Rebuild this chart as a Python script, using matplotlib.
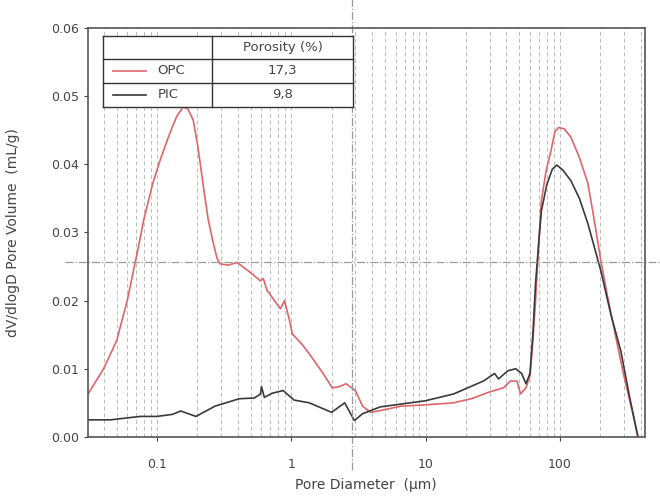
import numpy as np
import matplotlib.pyplot as plt
from matplotlib.ticker import LogLocator, NullFormatter, FixedLocator

# pore diameter (um) and dV/dlogD (mL/g)
opc_d = [0.03, 0.04, 0.05, 0.06, 0.071, 0.08, 0.093, 0.105, 0.119, 0.13, 0.14, 0.156,
         0.17, 0.186, 0.2, 0.22, 0.24, 0.26, 0.28, 0.295, 0.34, 0.395, 0.44, 0.52, 0.587,
         0.62, 0.66, 0.75, 0.83, 0.89, 0.97, 1.02, 1.2, 1.36, 1.7, 2.02, 2.3, 2.56, 3.0,
         3.4, 3.9, 5.0, 6.5, 10, 16.2, 22, 29, 38, 43, 48, 51, 56, 60, 63, 66, 70, 73, 79,
         86, 92, 98, 108, 121, 140, 162, 180, 202, 225, 253, 300, 356, 382]
opc_v = [0.0060, 0.0100, 0.0141, 0.0200, 0.0269, 0.0320, 0.0372, 0.0405, 0.0435, 0.0455,
         0.0470, 0.0484, 0.0481, 0.0465, 0.0430, 0.0372, 0.0320, 0.0288, 0.0262, 0.0254,
         0.0252, 0.0256, 0.0249, 0.0238, 0.0229, 0.0232, 0.0215, 0.0200, 0.0188, 0.0200,
         0.0171, 0.0151, 0.0136, 0.0122, 0.0095, 0.0072, 0.0074, 0.0078, 0.0068, 0.0045,
         0.0036, 0.0040, 0.0045, 0.0047, 0.0050, 0.0056, 0.0065, 0.0072, 0.0082, 0.0082,
         0.0063, 0.0072, 0.0090, 0.0140, 0.0200, 0.0290, 0.0347, 0.0390, 0.0420, 0.0448,
         0.0454, 0.0452, 0.0440, 0.0410, 0.0372, 0.0320, 0.0259, 0.0210, 0.0160, 0.0090,
         0.0028, 0.0]

pic_d = [0.03, 0.045, 0.075, 0.1, 0.13, 0.15, 0.195, 0.27, 0.41, 0.53, 0.59, 0.6, 0.63,
         0.72, 0.87, 1.05, 1.36, 2.0, 2.5, 2.95, 3.4, 4.6, 6.5, 10, 16.2, 27, 32.7, 35,
         41, 47, 52, 56, 60, 63, 66, 70, 73, 80, 88, 95, 105, 121, 140, 162, 180, 202, 240,
         285, 330, 382]
pic_v = [0.0025, 0.0025, 0.0030, 0.0030, 0.0033, 0.0038, 0.0030, 0.0045, 0.0056, 0.0057,
         0.0063, 0.0074, 0.0058, 0.0064, 0.0068, 0.0054, 0.0050, 0.0036, 0.0050, 0.0024,
         0.0034, 0.0044, 0.0048, 0.0053, 0.0063, 0.0082, 0.0093, 0.0085, 0.0097, 0.0100,
         0.0093, 0.0078, 0.0093, 0.0150, 0.0225, 0.0290, 0.0332, 0.0370, 0.0393, 0.0399,
         0.0392, 0.0376, 0.0350, 0.0313, 0.0280, 0.0244, 0.0180, 0.0126, 0.0060, 0.0]

porosity = ['17,3', '9,8']

fig = plt.figure(figsize=(6.6, 5.01), dpi=100)
ax = fig.add_axes([0.133, 0.128, 0.844, 0.816])

ax.plot(opc_d, opc_v, color='#e0656a', lw=1.2)
ax.plot(pic_d, pic_v, color='#3a3a3a', lw=1.2)

ax.set_xscale('log')
ax.set_xlim(0.0305, 430)
ax.set_ylim(0, 0.06)
ax.xaxis.set_major_locator(FixedLocator([0.1, 1, 10, 100]))
ax.set_xticklabels(['0.1', '1', '10', '100'])
ax.xaxis.set_minor_locator(LogLocator(base=10, subs=np.arange(2, 10)))
ax.xaxis.set_minor_formatter(NullFormatter())
ax.set_yticks([0, 0.01, 0.02, 0.03, 0.04, 0.05, 0.06])
ax.set_yticklabels(['0.00', '0.01', '0.02', '0.03', '0.04', '0.05', '0.06'])
ax.grid(True, which='both', axis='x', color='#bbbbbb', ls=(0, (4, 3)), lw=0.7)
ax.tick_params(labelsize=9, colors='#444444', length=3)
ax.tick_params(axis='x', pad=12)
ax.tick_params(which='minor', length=0)
for s in ax.spines.values():
    s.set_color('#555555')
    s.set_linewidth(1.2)

ax.set_xlabel('Pore Diameter  (\u00b5m)', fontsize=10, color='#444444', labelpad=5)
ax.set_ylabel('dV/dlogD Pore Volume  (mL/g)', fontsize=10, color='#444444', labelpad=22)

# crosshair lines
ax.plot([2.85, 2.85], [-0.08, 1.07], transform=ax.get_xaxis_transform(), clip_on=False,
        color='#999999', ls='-.', lw=0.9)
ax.plot([-0.04, 1.03], [0.0256, 0.0256], transform=ax.get_yaxis_transform(), clip_on=False,
        color='#999999', ls='-.', lw=0.9)

# table-style legend
x0, x1, x2 = 0.027, 0.223, 0.476
ys = [0.980, 0.924, 0.866, 0.807]
ax.fill_between([x0, x2], ys[3], ys[0], transform=ax.transAxes, color='white', zorder=4)
for y in ys:
    ax.plot([x0, x2], [y, y], transform=ax.transAxes, color='#333333', lw=1, zorder=5)
for x in (x0, x1, x2):
    ax.plot([x, x], [ys[3], ys[0]], transform=ax.transAxes, color='#333333', lw=1, zorder=5)
ax.text((x1 + x2) / 2, (ys[0] + ys[1]) / 2, 'Porosity (%)', transform=ax.transAxes,
        ha='center', va='center', fontsize=9.5, color='#444444', zorder=6)
names = ['OPC', 'PIC']
colors = ['#e0656a', '#3a3a3a']
for i in range(2):
    yc = (ys[i + 1] + ys[i + 2]) / 2
    ax.plot([0.045, 0.105], [yc, yc], transform=ax.transAxes, color=colors[i], lw=1.2, zorder=6)
    ax.text(0.125, yc, names[i], transform=ax.transAxes, ha='left', va='center',
            fontsize=9.5, color='#444444', zorder=6)
    ax.text((x1 + x2) / 2, yc, porosity[i], transform=ax.transAxes, ha='center',
            va='center', fontsize=9.5, color='#444444', zorder=6)

fig.savefig('out.png', dpi=100)
